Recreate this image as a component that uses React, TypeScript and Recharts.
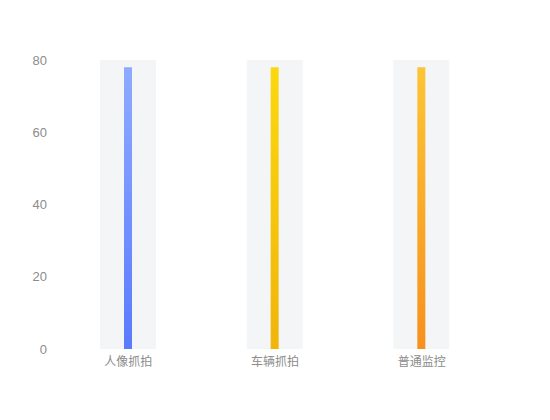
import { BarChart, Bar, XAxis, YAxis, Cell } from "recharts";

const categories = ["人像抓拍", "车辆抓拍", "普通监控"];
const values = [78, 78, 78];
const backgroundValues = [80, 80, 80];
const yTicks = [0, 20, 40, 60, 80];
const gradients = [
  ["#8eabff", "#5a7aff"],
  ["#fbd80f", "#f1b40b"],
  ["#fcc535", "#f7901e"],
];

const font = "'Liberation Sans', Arial, 'Noto Sans CJK SC', sans-serif";

const data = categories.map((name, i) => ({ name, value: values[i], bg: backgroundValues[i] }));

export default function App() {
  return (
    <div style={{ position: "absolute", left: 0, top: 0, width: 550, height: 420, background: "#fff" }}>
      <BarChart
        width={550}
        height={420}
        data={data}
        margin={{ top: 60, right: 55, left: 0, bottom: 41 }}
      >
        <defs>
          {gradients.map((g, i) => (
            <linearGradient key={i} id={`grad${i}`} x1="0" y1="0" x2="0" y2="1">
              <stop offset="0%" stopColor={g[0]} />
              <stop offset="100%" stopColor={g[1]} />
            </linearGradient>
          ))}
        </defs>
        <XAxis
          dataKey="name"
          axisLine={false}
          tickLine={false}
          tick={{ fill: "#8c8c8c", fontSize: 12, fontFamily: font }}
        />
        <XAxis xAxisId="bg" dataKey="name" hide />
        <YAxis
          width={55}
          domain={[0, 80]}
          ticks={yTicks}
          axisLine={false}
          tickLine={false}
          tick={{ fill: "#8c8c8c", fontSize: 13, fontFamily: font }}
        />
        <Bar xAxisId="bg" dataKey="bg" barSize={56} fill="#f3f5f7" isAnimationActive={false} />
        <Bar dataKey="value" barSize={8} isAnimationActive={false}>
          {data.map((_, i) => (
            <Cell key={i} fill={`url(#grad${i})`} />
          ))}
        </Bar>
      </BarChart>
    </div>
  );
}
